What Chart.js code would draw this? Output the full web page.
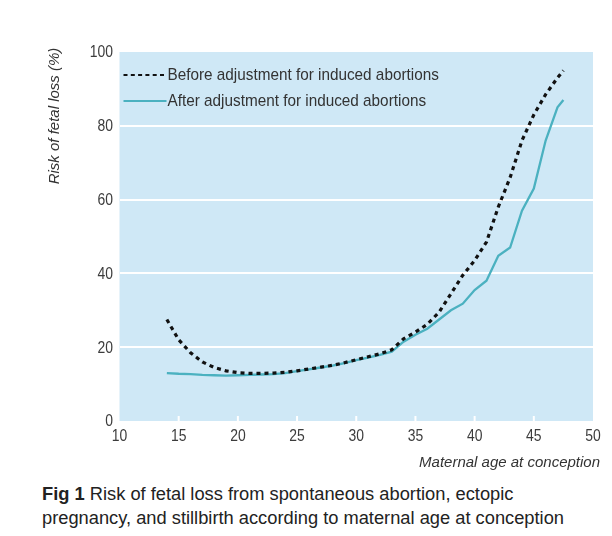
<!DOCTYPE html>
<html>
<head>
<meta charset="utf-8">
<script src="https://cdn.jsdelivr.net/npm/chart.js@4.4.1/dist/chart.umd.min.js"></script>
<style>
  html, body { margin: 0; padding: 0; background: #fff; }
  #wrap { position: relative; width: 612px; height: 536px; }
  #chart { position: absolute; left: 0; top: 0; }
  #caption {
    position: absolute; left: 42px; top: 482px; width: 570px; white-space: nowrap;
    font-family: "Liberation Sans", Arial, sans-serif; font-size: 18.3px;
    line-height: 23.5px; color: #222;
  }
</style>
</head>
<body>
<div id="wrap">
  <canvas id="chart" width="612" height="480"></canvas>
  <div id="caption"><b>Fig 1</b> Risk of fetal loss from spontaneous abortion, ectopic<br>pregnancy, and stillbirth according to maternal age at conception</div>
</div>
<script>
// donnees
const ages = [14, 15, 16, 17, 18, 19, 20, 21, 22, 23, 24, 25, 26, 27, 28, 29, 30,
  31, 32, 33, 34, 35, 36, 37, 38, 39, 40, 41, 42, 43, 44, 45, 46, 47, 47.5];
const before = [27.5, 22, 18.5, 16, 14.5, 13.6, 13.1, 12.9, 12.9, 13.0, 13.2, 13.6, 14.1, 14.6, 15.1, 15.8, 16.6,
  17.4, 18.2, 19.3, 22.3, 24.1, 26.2, 29.5, 34.5, 39.5, 43.5, 48.5, 58, 66, 76, 83, 88.5, 93, 95];
const after = [13.0, 12.8, 12.7, 12.5, 12.4, 12.3, 12.4, 12.5, 12.6, 12.7, 13.0, 13.5, 14.0, 14.5, 15.0, 15.7, 16.5,
  17.2, 17.9, 18.8, 21.5, 23.4, 25, 27.5, 30, 31.8, 35.5, 38, 44.8, 47, 57, 63, 76, 85, 87];
const xTicks = [10, 15, 20, 25, 30, 35, 40, 45, 50];
const yTicks = [0, 20, 40, 60, 80, 100];
const labelBefore = 'Before adjustment for induced abortions';
const labelAfter = 'After adjustment for induced abortions';

const sans = '"Liberation Sans", Arial, sans-serif';
const teal = '#4bb1c0';

function pts(ys) {
  return ages.map((a, i) => ({ x: a, y: ys[i] }));
}

// texte "etroit" : on compresse horizontalement
function narrowText(ctx, txt, x, y, align, sx) {
  ctx.save();
  ctx.translate(x, y);
  ctx.scale(sx, 1);
  ctx.textAlign = align;
  ctx.fillText(txt, 0, 0);
  ctx.restore();
}

const decor = {
  id: 'decor',
  beforeDraw(chart) {
    const { ctx, chartArea: a } = chart;
    ctx.save();
    ctx.fillStyle = '#cfe8f6';
    ctx.fillRect(a.left, a.top, a.right - a.left, a.bottom - a.top);
    ctx.restore();
  },
  afterDatasetsDraw(chart) {
    const { ctx, chartArea: a, scales } = chart;
    ctx.save();
    // petits traits blancs au bas
    ctx.strokeStyle = '#ffffff';
    ctx.lineWidth = 2;
    xTicks.slice(1, -1).forEach(t => {
      const px = scales.x.getPixelForValue(t);
      ctx.beginPath();
      ctx.moveTo(px, a.bottom);
      ctx.lineTo(px, a.bottom - 5);
      ctx.stroke();
    });

    // etiquettes des graduations
    ctx.fillStyle = '#3c3c3c';
    ctx.font = '16px ' + sans;
    ctx.textBaseline = 'middle';
    xTicks.forEach(t => {
      narrowText(ctx, String(t), scales.x.getPixelForValue(t), 437, 'center', 0.87);
    });
    yTicks.forEach(t => {
      narrowText(ctx, String(t), 113, scales.y.getPixelForValue(t) + 1, 'right', 0.87);
    });

    // legende
    const ds = chart.data.datasets;
    const rows = [75, 101];
    ds.forEach((d, i) => {
      ctx.beginPath();
      ctx.strokeStyle = d.borderColor;
      ctx.lineWidth = 2.2;
      ctx.setLineDash(i === 0 ? [4, 3.3] : []);
      ctx.moveTo(a.left + 4, rows[i]);
      ctx.lineTo(a.left + 47, rows[i]);
      ctx.stroke();
      ctx.setLineDash([]);
      ctx.fillStyle = '#333';
      ctx.font = '17px ' + sans;
      ctx.textBaseline = 'middle';
      narrowText(ctx, d.label, a.left + 48, rows[i], 'left', 0.9);
    });

    // titres d'axes
    ctx.fillStyle = '#333';
    ctx.font = 'italic 15px ' + sans;
    ctx.textAlign = 'right';
    ctx.textBaseline = 'middle';
    ctx.fillText('Maternal age at conception', 600, 463);
    ctx.translate(55, 116);
    ctx.rotate(-Math.PI / 2);
    ctx.textAlign = 'center';
    ctx.fillText('Risk of fetal loss (%)', 0, 0);
    ctx.restore();
  }
};

new Chart(document.getElementById('chart'), {
  type: 'scatter',
  data: {
    datasets: [
      {
        label: labelBefore,
        data: pts(before),
        showLine: true,
        borderColor: '#111',
        borderWidth: 3.2,
        borderDash: [4, 4],
        pointRadius: 0,
        fill: false
      },
      {
        label: labelAfter,
        data: pts(after),
        showLine: true,
        borderColor: teal,
        borderWidth: 2.3,
        pointRadius: 0,
        fill: false
      }
    ]
  },
  options: {
    responsive: false,
    animation: false,
    layout: { padding: { left: 0, right: 19, top: 52, bottom: 0 } },
    plugins: { legend: { display: false }, tooltip: { enabled: false } },
    scales: {
      x: {
        type: 'linear',
        min: 10, max: 50,
        afterBuildTicks: s => { s.ticks = xTicks.map(v => ({ value: v })); },
        afterFit: s => { s.height = 59; },
        grid: { display: false },
        border: { display: false },
        ticks: { display: false }
      },
      y: {
        min: 0, max: 100,
        afterBuildTicks: s => { s.ticks = yTicks.map(v => ({ value: v })); },
        afterFit: s => { s.width = 119.5; },
        grid: {
          color: ctx => (ctx.tick && (ctx.tick.value === 0 || ctx.tick.value === 100)) ? 'rgba(0,0,0,0)' : '#ffffff',
          lineWidth: 2,
          drawTicks: false
        },
        border: { display: false },
        ticks: { display: false }
      }
    }
  },
  plugins: [decor]
});
</script>
</body>
</html>
